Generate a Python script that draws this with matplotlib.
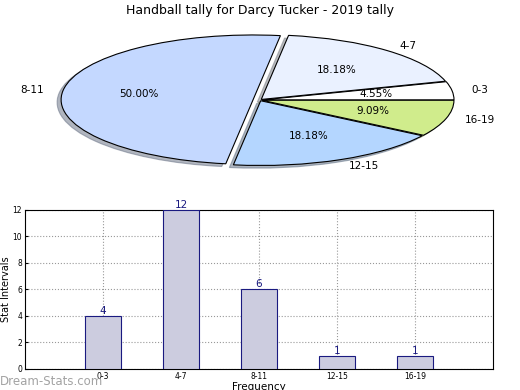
import matplotlib
matplotlib.use('Agg')
from matplotlib import pyplot as plt

# pie data
pie_labels = ['0-3', '4-7', '8-11', '12-15', '16-19']
pie_counts = [1, 4, 11, 4, 2]
pie_colors = ['#ffffff', '#eaf1ff', '#c4d8ff', '#b4d6ff', '#d0ec8c']

# bar data
bar_labels = ['0-3', '4-7', '8-11', '12-15', '16-19']
bar_values = [4, 12, 6, 1, 1]

fig = plt.figure(figsize=(5.2, 3.9), dpi=100)

# ----- pie ----- #
ax1 = fig.add_axes([0.038, 0.536, 0.923, 0.415])
wedges, texts, autotexts = ax1.pie(
    pie_counts, labels=pie_labels, colors=pie_colors, autopct='%.2f%%',
    explode=[0.012, 0.012, 0.035, 0.012, 0.012],
    shadow={'ox': -0.015, 'oy': -0.03, 'shade': 0.5}, startangle=0,
    wedgeprops={'edgecolor': 'black', 'linewidth': 0.8},
    textprops={'fontsize': 7.5})
ax1.set_aspect('auto')
ax1.set_xlim(-1.25, 1.25)
ax1.set_ylim(-1.25, 1.25)
fig.text(0.5, 0.972, 'Handball tally for Darcy Tucker - 2019 tally',
         ha='center', va='center', fontsize=9)

# ----- bars ----- #
ax2 = fig.add_axes([0.048, 0.054, 0.9, 0.408])
x = range(len(bar_values))
ax2.bar(x, bar_values, width=0.46, color='#ccccdf', edgecolor='#1a1a80', linewidth=0.8, zorder=3)
for i, v in zip(x, bar_values):
    ax2.text(i, v, str(v), ha='center', va='bottom', color='#1a1a80', fontsize=7.5)
ax2.set_xlim(-1, 5)
ax2.set_ylim(0, 12)
ax2.set_yticks(range(0, 13, 2))
ax2.set_xticks(list(x))
ax2.set_xticklabels(bar_labels)
ax2.tick_params(labelsize=5.5, length=2, direction='in', pad=2)
ax2.grid(True, linestyle=':', color='#999999', linewidth=0.8)
ax2.set_ylabel('Stat Intervals', fontsize=7, labelpad=1)
ax2.set_xlabel('Frequency', fontsize=7.5, labelpad=1)

fig.text(0.0, 0.022, 'Dream-Stats.com', color='#999999', fontsize=8.5,
         alpha=0.9, va='center')

fig.savefig('out.png', dpi=100)
